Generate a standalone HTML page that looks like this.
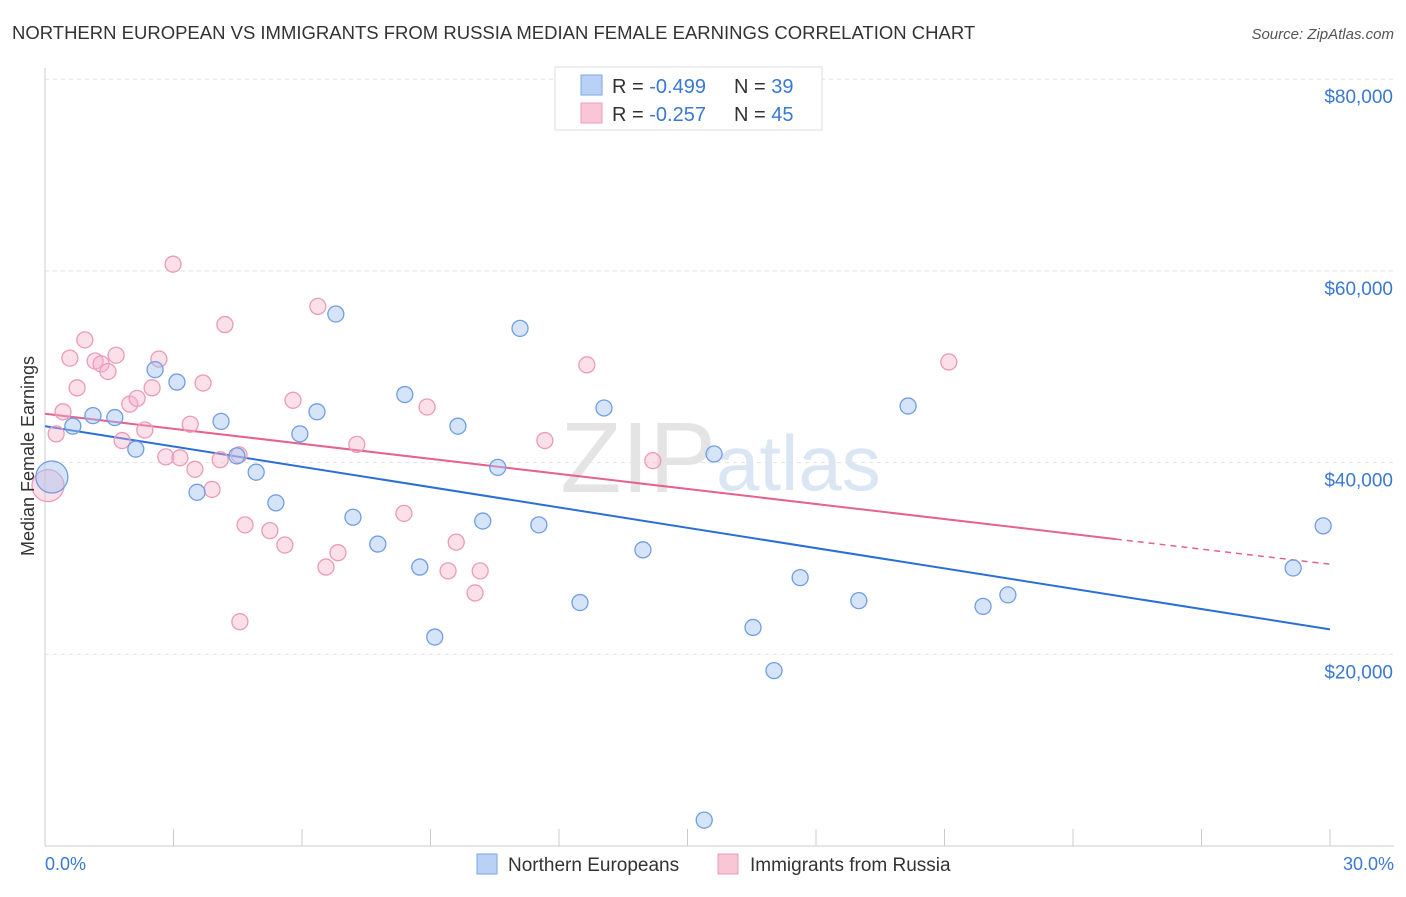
<!DOCTYPE html>
<html><head><meta charset="utf-8"><style>
body{margin:0;background:#fff;font-family:"Liberation Sans",sans-serif;}
svg text{font-family:"Liberation Sans",sans-serif;}
</style></head><body>
<svg id="c" width="1406" height="892" xmlns="http://www.w3.org/2000/svg">
<text x="12" y="39" font-size="18.5" fill="#333">NORTHERN EUROPEAN VS IMMIGRANTS FROM RUSSIA MEDIAN FEMALE EARNINGS CORRELATION CHART</text>
<text x="1394" y="39" font-size="15" fill="#555" font-style="italic" text-anchor="end">Source: ZipAtlas.com</text>
<text x="716" y="492" font-size="100" fill="#e4e4e4" text-anchor="end" font-family="Liberation Serif">ZIP</text>
<text x="716" y="490" font-size="78" fill="#dbe6f5">atlas</text>
<g id="grid"></g><g id="axes"></g><g id="lines"></g><g id="pts"></g>
<text transform="translate(34,456) rotate(-90)" font-size="18" fill="#333" text-anchor="middle">Median Female Earnings</text>
<text x="45" y="870" font-size="18" fill="#3a78d4">0.0%</text>
<text x="1394" y="870" font-size="18" fill="#3a78d4" text-anchor="end">30.0%</text>
<g>
<rect x="555" y="67" width="267" height="63" fill="#fff" stroke="#ddd"/>
<rect x="581" y="75" width="21" height="20" fill="#b9d1f5" stroke="#7aa6e6"/>
<rect x="581" y="103" width="21" height="20" fill="#f9c6d6" stroke="#eb9bb8"/>
<text x="612" y="93" font-size="20" fill="#333">R = <tspan fill="#3a78d4">-0.499</tspan></text>
<text x="734" y="93" font-size="20" fill="#333">N = <tspan fill="#3a78d4">39</tspan></text>
<text x="612" y="121" font-size="20" fill="#333">R = <tspan fill="#3a78d4"> -0.257</tspan></text>
<text x="734" y="121" font-size="20" fill="#333">N = <tspan fill="#3a78d4">45</tspan></text>
</g>
<g>
<rect x="477" y="854" width="20" height="20" fill="#b9d1f5" stroke="#7aa6e6"/>
<text x="508" y="871" font-size="19" fill="#333">Northern Europeans</text>
<rect x="718" y="854" width="20" height="20" fill="#f9c6d6" stroke="#eb9bb8"/>
<text x="750" y="871" font-size="19" fill="#333">Immigrants from Russia</text>
</g>
</svg>
<script>
const yTicks=[20000,40000,60000,80000];
const yTickLabels=["$20,000","$40,000","$60,000","$80,000"];
const blueX=[0.16,0.65,1.12,1.63,2.12,2.57,3.08,3.55,4.11,4.48,4.93,5.39,5.95,6.35,6.79,7.19,7.77,8.40,8.75,9.10,9.64,10.22,10.57,11.09,11.53,12.49,13.05,13.96,15.39,15.62,16.53,17.02,17.63,19.00,20.15,21.90,22.48,29.14,29.84];
const blueY=[38500,43800,44900,44700,41400,49700,48400,36900,44300,40700,39000,35800,43000,45300,55500,34300,31500,47100,29100,21800,43800,33900,39500,54000,33500,25400,45700,30900,2700,40900,22800,18300,28000,25600,45900,25000,26200,29000,33400];
const pinkX=[0.07,0.26,0.42,0.58,0.75,0.93,1.17,1.31,1.47,1.66,1.80,1.98,2.15,2.33,2.50,2.66,2.82,2.99,3.15,3.39,3.50,3.69,3.90,4.09,4.20,4.53,4.55,4.67,5.25,5.60,5.79,6.37,6.56,6.84,7.28,8.38,8.92,9.41,9.60,10.04,10.16,11.67,12.65,14.19,21.10];
const pinkY=[37600,43000,45300,50900,47800,52800,50600,50300,49500,51200,42300,46100,46700,43400,47800,50800,40600,60700,40500,44000,39300,48300,37200,40300,54400,40800,23400,33500,32900,31400,46500,56300,29100,30600,41900,34700,45800,28700,31700,26400,28700,42300,50200,40200,50500];
const blueTrend=[43800,22600];
const pinkTrend=[45100,29400];
const pinkSolidEnd=25;
const NS="http://www.w3.org/2000/svg";
const X=v=>45+v/30*1285, Y=v=>846-v/20000*191.7;
function mk(t,a,p){const e=document.createElementNS(NS,t);for(const k in a)e.setAttribute(k,a[k]);p.appendChild(e);return e;}
const grid=document.getElementById('grid'),axes=document.getElementById('axes'),lines=document.getElementById('lines'),pts=document.getElementById('pts');
yTicks.forEach((t,i)=>{
 const l=mk('line',{x1:45,x2:1394,y1:Y(t),y2:Y(t),stroke:'#e2e2e2','stroke-dasharray':'4,4'},grid);
 
 
 const tx=mk('text',{x:1393,y:Y(t)+24,'font-size':19,fill:'#3a78d4','text-anchor':'end'},grid);
 tx.textContent=yTickLabels[i];
 
 
});
const ax=mk('line',{x1:45,x2:1394,y1:846,y2:846,stroke:'#ccc'},axes);


const ay=mk('line',{x1:45,x2:45,y1:68,y2:846,stroke:'#ccc'},axes);


for(let i=0;i<=10;i++){const t=mk('line',{x1:X(i*3),x2:X(i*3),y1:829,y2:846,stroke:'#ccc'},axes);
 
 }
const bl=mk('line',{x1:X(0),y1:Y(blueTrend[0]),x2:X(30),y2:Y(blueTrend[1]),stroke:'#2a6fd6','stroke-width':2},lines);


const pm=pinkTrend[0]+(pinkTrend[1]-pinkTrend[0])*pinkSolidEnd/30;
const pl=mk('line',{x1:X(0),y1:Y(pinkTrend[0]),x2:X(pinkSolidEnd),y2:Y(pm),stroke:'#e4638f','stroke-width':2},lines);


const pd=mk('line',{x1:X(pinkSolidEnd),y1:Y(pm),x2:X(30),y2:Y(pinkTrend[1]),stroke:'#e4638f','stroke-width':1.5,'stroke-dasharray':'6,5'},lines);


function dots(xs,ys,fill,stroke,name){xs.forEach((x,i)=>{
 const c=mk('circle',{cx:X(x),cy:Y(ys[i]),r:i===0?16:8,fill:fill,stroke:stroke,'stroke-width':1.3},pts);
 
 });}
dots(pinkX,pinkY,'rgba(246,175,200,0.4)','#eb9bb8','point-russia');
dots(blueX,blueY,'rgba(165,195,242,0.45)','#6f9ee3','point-northern');
</script>
</body></html>
